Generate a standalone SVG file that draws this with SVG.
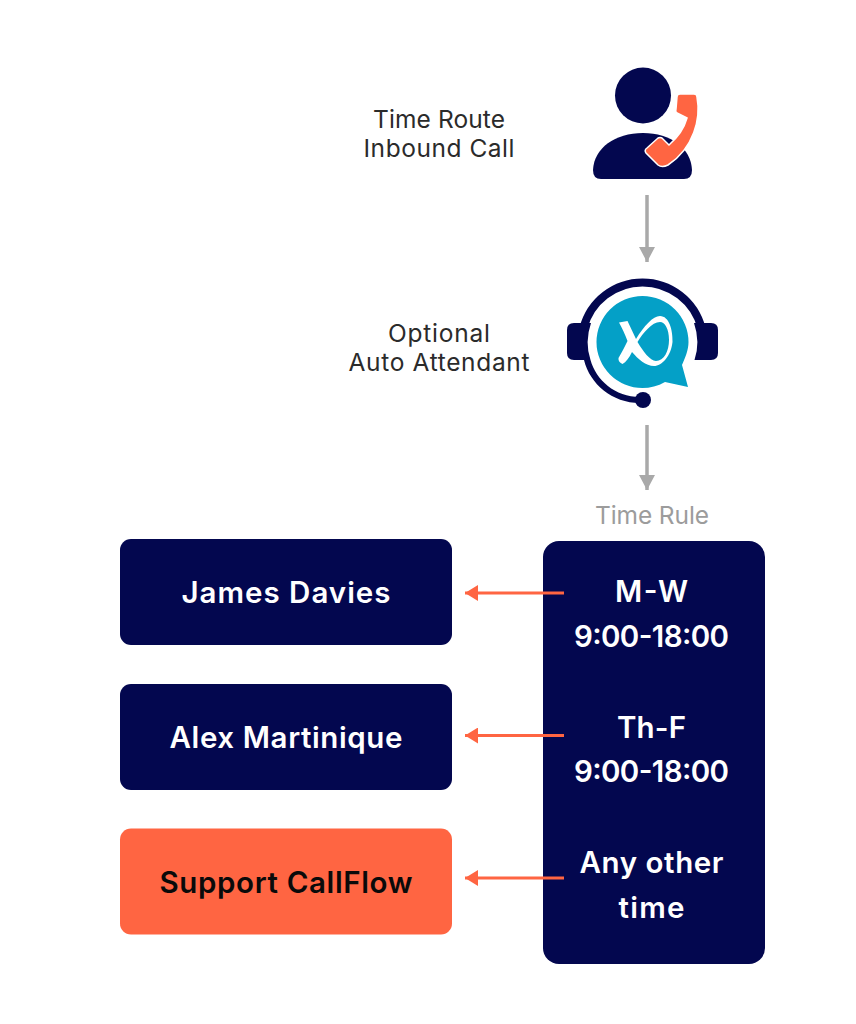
<svg xmlns="http://www.w3.org/2000/svg" width="856" height="1024" viewBox="0 0 856 1024">
<style>
text{font-family:"Inter","Noto Sans","Liberation Sans",sans-serif;text-anchor:middle}
.lbl{font-size:24.500px;fill:#2b2b2b;font-weight:400}
.rule{font-size:24.500px;fill:#9c9c9c;font-weight:400}
.box{font-size:29.500px;font-weight:600;fill:#fff}
.navy{fill:#03074f}
.org{fill:#ff6542}
.g{stroke:#a9a9a9;stroke-width:3.5;fill:none}
.o{stroke:#ff6542;stroke-width:3;fill:none}
</style>
<defs>
<marker id="ag" markerUnits="userSpaceOnUse" markerWidth="16" markerHeight="16" refX="15" refY="8" orient="auto"><path d="M0 0L15 8L0 16z" fill="#a9a9a9"/></marker>
<marker id="ao" markerUnits="userSpaceOnUse" markerWidth="14" markerHeight="16" refX="13" refY="8" orient="auto"><path d="M0 0L13 8L0 16z" fill="#ff6542"/></marker>
</defs>
<rect width="856" height="1024" fill="#fff"/>
<g id="connectors">
<path class="g" d="M647 195V262" marker-end="url(#ag)"/>
<path class="g" d="M647 425V490" marker-end="url(#ag)"/>
<path class="o" d="M564 593H465" marker-end="url(#ao)"/>
<path class="o" d="M564 735.500H465" marker-end="url(#ao)"/>
<path class="o" d="M564 878H465" marker-end="url(#ao)"/>
</g>
<g id="time-rule-panel">
<rect class="navy" x="543" y="541" width="222" height="423" rx="16"/>
<path class="o" d="M543 593H564M543 735.500H564M543 878H564"/>
<text class="box" x="651.500" y="602" textLength="73" lengthAdjust="spacing">M-W</text>
<text class="box" x="651.500" y="647" textLength="155" lengthAdjust="spacing">9:00-18:00</text>
<text class="box" x="651.500" y="738" textLength="69" lengthAdjust="spacing">Th-F</text>
<text class="box" x="651.500" y="782" textLength="155" lengthAdjust="spacing">9:00-18:00</text>
<text class="box" x="651.500" y="873" textLength="144" lengthAdjust="spacing">Any other</text>
<text class="box" x="651.500" y="918" textLength="66" lengthAdjust="spacing">time</text>
</g>
<g id="caller">
<circle class="navy" cx="643" cy="95.500" r="28"/>
<path class="navy" d="M593 170C594 148 615 133 643 133C671 133 691 148 692 170Q692 179 684 179H601Q593 179 593 170z"/>
<path class="org" stroke="#fff" stroke-width="1.500" d="M680 94L694 94Q697 94 697 97C701 118 694 148 668 165Q662 168 658 165L646 153Q644 150 647 148L658 138Q660 137 662 138L669 145C677 138 684 129 687 118L677 113Q675 112 676 109L677 97Q677 94 680 94z"/>
</g>
<g id="attendant">
<path fill="none" stroke="#03074f" stroke-width="8" d="M583.500 328A61 61 0 0 1 701.500 328"/>
<path class="navy" d="M574 323H591Q584.500 342 590.500 360H574Q567 360 567 353V330Q567 323 574 323z"/>
<path class="navy" d="M694 323H711Q718 323 718 330V353Q718 360 711 360H694.500Q700.500 342 694 323z"/>
<path class="navy" d="M584 360L590.500 360C596 380 615 397 640 397L640 403C612 403 590 384 584 360z"/>
<circle class="navy" cx="643" cy="400" r="8"/>
<path fill="#04a0c7" d="M596.500 342A46 46 0 0 1 688.500 342C688.500 350 685 358 682 365L688 387L665 382C658 386 650 388 642.500 388A46 46 0 0 1 596.500 342z"/>
<path fill="#fff" fill-rule="evenodd" d="M619 322.500L627.500 321L636 339C644 326 653 316 660 316C669 316 673 330 672.500 342C671 356 662 366 654 366C646 366 638 359 632 352C629 358 626 362 622.500 364C620 363 618 361 618.500 358C622 352 625 346 627.500 341C625 334 622 328 619 322.500zM637.500 342C643 351 650 361 656 361C664 361 669 351 669 340C669 329 665 322 660 322C652 322 643 333 637.500 342z"/>
</g>
<g id="label-inbound">
<text class="lbl" x="439" y="127.500" textLength="132" lengthAdjust="spacing">Time Route</text>
<text class="lbl" x="439" y="156.500" textLength="151" lengthAdjust="spacing">Inbound Call</text>
</g>
<g id="label-attendant">
<text class="lbl" x="439" y="341.500" textLength="102" lengthAdjust="spacing">Optional</text>
<text class="lbl" x="439" y="370.500" textLength="181" lengthAdjust="spacing">Auto Attendant</text>
</g>
<g id="label-rule"><text class="rule" x="652" y="523.500" textLength="114" lengthAdjust="spacing">Time Rule</text></g>
<g id="james-davies">
<rect class="navy" x="120" y="539" width="332" height="106" rx="11"/>
<text class="box" x="286" y="603" textLength="209" lengthAdjust="spacing">James Davies</text>
</g>
<g id="alex-martinique">
<rect class="navy" x="120" y="684" width="332" height="106" rx="11"/>
<text class="box" x="286" y="748" textLength="233" lengthAdjust="spacing">Alex Martinique</text>
</g>
<g id="support-callflow">
<rect class="org" x="120" y="828.500" width="332" height="106" rx="11"/>
<text class="box" style="fill:#0a0a0a" x="286" y="893" textLength="253" lengthAdjust="spacing">Support CallFlow</text>
</g>
</svg>
